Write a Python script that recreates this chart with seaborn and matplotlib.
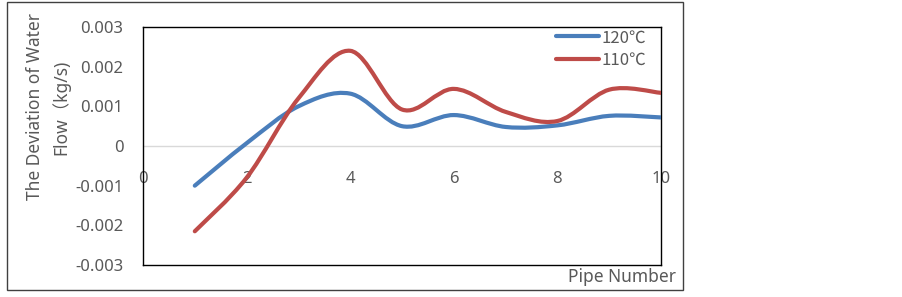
import numpy as np
import pandas as pd
import matplotlib
matplotlib.use("Agg")
import matplotlib.pyplot as plt
import seaborn as sns
from matplotlib.path import Path
from matplotlib.patches import PathPatch, Rectangle
from matplotlib.lines import Line2D

# values
pipe_number = [1, 2, 3, 4, 5, 6, 7, 8, 9, 10]
dev_120 = [-0.00100, 0.00007, 0.00100, 0.00132, 0.00050, 0.00078, 0.00048, 0.00052, 0.00076, 0.00072]
dev_110 = [-0.00215, -0.00080, 0.00120, 0.00240, 0.00092, 0.00144, 0.00086, 0.00063, 0.00142, 0.00134]
series_names = ["120\u2103", "110\u2103"]
x_ticks = [0, 2, 4, 6, 8, 10]
y_ticks = [-0.003, -0.002, -0.001, 0, 0.001, 0.002, 0.003]
y_tick_labels = ["-0.003", "-0.002", "-0.001", "0", "0.001", "0.002", "0.003"]

df = pd.DataFrame({"pipe": pipe_number, series_names[0]: dev_120, series_names[1]: dev_110})

sns.set_style("white")
plt.rcParams["font.family"] = ["Noto Sans", "Noto Sans CJK SC", "DejaVu Sans"]
colors = ["#4A7EBB", "#BE4B48"]
grey = "#595959"


def smooth_path(xs, ys):
    # Excel style smoothed line: cubic bezier through every point
    xs = np.asarray(xs, float)
    ys = np.asarray(ys, float)
    n = len(xs)
    verts = [(xs[0], ys[0])]
    codes = [Path.MOVETO]
    for i in range(n - 1):
        p0 = i - 1 if i > 0 else 0
        p3 = i + 2 if i + 2 < n else n - 1
        c1 = (xs[i] + (xs[i + 1] - xs[p0]) / 6, ys[i] + (ys[i + 1] - ys[p0]) / 6)
        c2 = (xs[i + 1] - (xs[p3] - xs[i]) / 6, ys[i + 1] - (ys[p3] - ys[i]) / 6)
        verts += [c1, c2, (xs[i + 1], ys[i + 1])]
        codes += [Path.CURVE4] * 3
    return Path(verts, codes)


fig = plt.figure(figsize=(9.03, 2.97), dpi=100)
ax = fig.add_axes([143 / 903, 32 / 297, 518 / 903, 238 / 297])

ax.axhline(0, color="#D9D9D9", lw=1, zorder=1)
handles = []
for name, col in zip(series_names, colors):
    patch = PathPatch(smooth_path(df["pipe"], df[name]), fill=False, edgecolor=col,
                      lw=3, capstyle="round", zorder=3)
    ax.add_patch(patch)
    handles.append(Line2D([], [], color=col, lw=3))

ax.set_xlim(0, 10)
ax.set_ylim(-0.003, 0.003)
ax.set_xticks(x_ticks)
ax.set_xticklabels([str(t) for t in x_ticks])
ax.set_yticks(y_ticks)
ax.set_yticklabels(y_tick_labels)
ax.tick_params(axis="x", length=0, pad=-68, labelsize=12, labelcolor=grey)
ax.tick_params(axis="y", length=0, pad=14, labelsize=12, labelcolor=grey)
for s in ax.spines.values():
    s.set_color("black")
    s.set_linewidth(1)

leg = ax.legend(handles, series_names, loc="upper right", frameon=False,
                bbox_to_anchor=(655 / 903, 276 / 297), bbox_transform=fig.transFigure,
                borderpad=0, handlelength=2.6, handletextpad=0.15, labelspacing=0.35,
                prop={"family": ["Noto Sans CJK SC"], "size": 12})
for t in leg.get_texts():
    t.set_color(grey)

fig.text(48 / 903, 190 / 297, "The Deviation of Water\nFlow\uff08kg/s)", rotation=90,
         ha="center", va="center", fontsize=12.5, color=grey, linespacing=1.5)
fig.text(676 / 903, 20 / 297, "Pipe Number", ha="right", va="center", fontsize=12.5, color=grey)

fig.add_artist(Rectangle((7 / 903, 7 / 297), 676 / 903, 288 / 297, transform=fig.transFigure,
                         fill=False, edgecolor="#404040", lw=1))

fig.savefig("out.png", dpi=100)
